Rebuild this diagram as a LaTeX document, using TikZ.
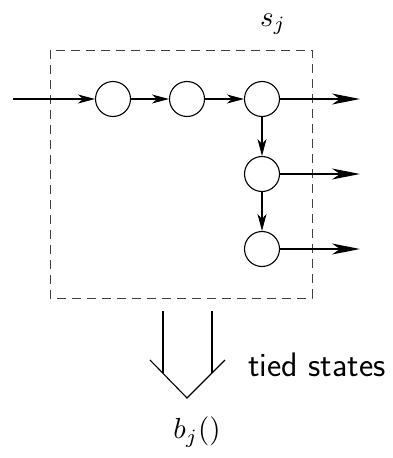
\documentclass[tikz,border=0pt]{standalone}
\usepackage{graphicx}
\usetikzlibrary{arrows.meta}
\begin{document}
\begin{tikzpicture}[x=1pt,y=-1pt,
  state/.style={draw,circle,minimum size=35pt,inner sep=0pt,line width=1.1pt},
  flow/.style={line width=1.1pt,-{Stealth[length=17pt,width=9pt,inset=5pt]}},
  outflow/.style={line width=1.1pt,-{Stealth[length=28pt,width=11pt,inset=8pt]}},
  grp/.style={draw=black!75,dash pattern=on 9pt off 6pt,line width=1pt}]
\useasboundingbox (0,0) rectangle (392,458);
\draw[grp] (50,50) rectangle (312,298);
\node (sj) at (273,24) {\scalebox{2.9}{$s_j$}};
\node[state] (a) at (113,99) {};
\node[state] (b) at (187,99) {};
\node[state] (c) at (262,99) {};
\node[state] (d) at (262,174) {};
\node[state] (e) at (262,249) {};
\coordinate (in) at (13,99);
\coordinate (o1) at (360,99);
\coordinate (o2) at (360,174);
\coordinate (o3) at (360,249);
\draw[flow] (in) -- (a);
\draw[flow] (a) -- (b);
\draw[flow] (b) -- (c);
\draw[flow] (c) -- (d);
\draw[flow] (d) -- (e);
\draw[outflow] (c) -- (o1);
\draw[outflow] (d) -- (o2);
\draw[outflow] (e) -- (o3);
% hollow arrow
\coordinate (l1) at (163,311);
\coordinate (l2) at (163,373);
\coordinate (r1) at (212,311);
\coordinate (r2) at (212,373);
\coordinate (wl) at (150,360);
\coordinate (wt) at (187,398);
\coordinate (wr) at (225,360);
\draw[line width=1.1pt] (l1) -- (l2) (r1) -- (r2);
\draw[line width=1.1pt] (wl) -- (wt) -- (wr);
\node[anchor=west,inner sep=0pt] (tied) at (248,365) {\fontsize{34}{40}\selectfont\sffamily tied states};
\node (bj) at (197,432) {\scalebox{2.9}{$b_j()$}};
\end{tikzpicture}
\end{document}
